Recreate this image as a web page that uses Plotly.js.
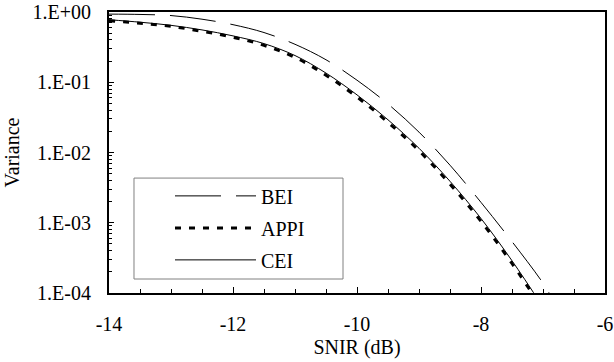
<!DOCTYPE html>
<html>
<head>
<meta charset="utf-8">
<script src="https://cdn.plot.ly/plotly-3.0.1.min.js"></script>
<style>
html,body{margin:0;padding:0;background:#fff;}
#chart{width:614px;height:362px;}
#chart svg text, .js-plotly-plot text { font-family: 'Liberation Serif', 'Times New Roman', serif !important; }
</style>
</head>
<body>
<div id="chart"></div>
<script>
const snir = [-14, -13.5, -13, -12.5, -12, -11.5, -11, -10.5, -10, -9.5, -9, -8.5, -8, -7.5, -7, -6.8];
const bei  = [0.933, 0.923, 0.89, 0.79, 0.66, 0.51, 0.347, 0.209, 0.107, 0.049, 0.0195, 0.0066, 0.00195, 0.00054, 0.000138, 0.00007];
const appi = [0.75, 0.692, 0.624, 0.531, 0.437, 0.335, 0.226, 0.126, 0.0617, 0.0269, 0.0106, 0.00355, 0.00105, 0.000263, 0.0000575];
const cei  = [0.776, 0.716, 0.646, 0.556, 0.457, 0.355, 0.240, 0.135, 0.0661, 0.0292, 0.0115, 0.00389, 0.00115, 0.000288, 0.000063];
const xTickVals = [-14, -12, -10, -8, -6];
const xTickText = ['-14', '-12', '-10', '-8', '-6'];
const yTickVals = [1, 0.1, 0.01, 0.001, 0.0001];
const yTickText = ['1.E+00', '1.E-01', '1.E-02', '1.E-03', '1.E-04'];

function fnt() { return {family: 'Liberation Serif', size: 20, color: '#000'}; }

const traces = [
  {x: snir, y: bei, name: 'BEI', mode: 'lines', legendgroup: 'a',
   line: {color: '#000', width: 1, dash: '46px,15px', shape: 'spline'}},
  {x: snir.slice(0, appi.length), y: appi, name: 'APPI', mode: 'lines', legendgroup: 'b',
   line: {color: '#000', width: 3, dash: '6px,8px', shape: 'spline'}},
  {x: snir.slice(0, cei.length), y: cei, name: 'CEI', mode: 'lines', legendgroup: 'c',
   line: {color: '#000', width: 1, shape: 'spline'}}
];

const layout = {
  width: 614, height: 362,
  margin: {l: 109, r: 9, t: 12, b: 69},
  paper_bgcolor: '#fff', plot_bgcolor: '#fff',
  font: fnt(),
  showlegend: true,
  legend: {
    x: 0.123, y: 0.415, xanchor: 'left', yanchor: 'top',
    bgcolor: 'rgba(0,0,0,0)', borderwidth: 0,
    font: fnt(), itemwidth: 81, tracegroupgap: 3, traceorder: 'grouped'
  },
  shapes: [
    {type: 'rect', xref: 'paper', yref: 'paper', x0: 0.0504, x1: 0.4718, y0: 0.0498, y1: 0.409,
     line: {color: '#808080', width: 1}, fillcolor: '#fff', layer: 'below'}
  ],
  xaxis: {
    range: [-14, -6], tickvals: xTickVals, ticktext: xTickText,
    ticks: 'inside', ticklen: 6, tickwidth: 1, tickcolor: '#000', tickfont: fnt(),
    minor: {dtick: 0.5, ticks: 'inside', ticklen: 4, tickwidth: 1, tickcolor: '#000'},
    showline: true, linecolor: '#000', linewidth: 2, mirror: true,
    showgrid: false, zeroline: false, ticklabelstandoff: 12,
    title: {text: 'SNIR (dB)', font: fnt(), standoff: 6}
  },
  yaxis: {
    type: 'log', range: [-4, 0], tickvals: yTickVals, ticktext: yTickText,
    ticks: 'inside', ticklen: 5, tickwidth: 1, tickcolor: '#000', tickfont: fnt(),
    minor: {dtick: 'D1', ticks: 'inside', ticklen: 3, tickwidth: 1, tickcolor: '#000', showgrid: false},
    showline: true, linecolor: '#000', linewidth: 2, mirror: true,
    showgrid: false, zeroline: false, ticklabelstandoff: 12,
    title: {text: 'Variance', font: fnt(), standoff: 8}
  }
};

Plotly.newPlot('chart', traces, layout, {displayModeBar: false, staticPlot: true});
</script>
</body>
</html>
